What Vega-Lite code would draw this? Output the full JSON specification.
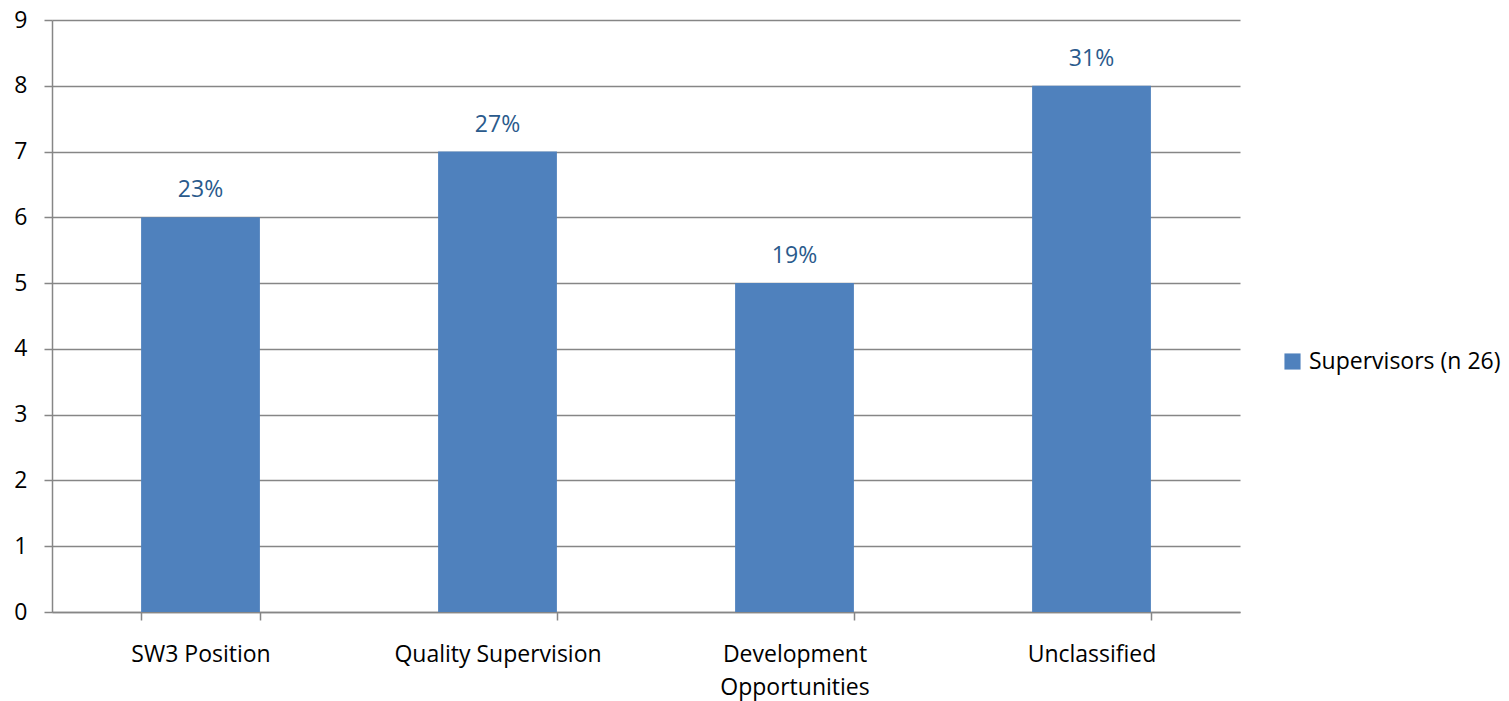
{
  "$schema": "https://vega.github.io/schema/vega-lite/v6.json",
  "width": 1188,
  "height": 592,
  "autosize": {"type": "none"},
  "padding": {"left": 52, "top": 20, "right": 269, "bottom": 89},
  "background": "white",
  "config": {
    "font": "Open Sans",
    "view": {"stroke": null}
  },
  "data": {
    "values": [
      {"category": "SW3 Position", "count": 6, "pct": "23%", "series": "Supervisors (n 26)"},
      {"category": "Quality Supervision", "count": 7, "pct": "27%", "series": "Supervisors (n 26)"},
      {"category": "Development Opportunities", "count": 5, "pct": "19%", "series": "Supervisors (n 26)"},
      {"category": "Unclassified", "count": 8, "pct": "31%", "series": "Supervisors (n 26)"}
    ]
  },
  "encoding": {
    "x": {
      "field": "category",
      "type": "nominal",
      "sort": null,
      "scale": {"paddingInner": 0.6, "paddingOuter": 0.3},
      "axis": {
        "title": null,
        "labelAngle": 0,
        "labelFont": "Open Sans",
        "labelFontSize": 23,
        "labelColor": "#000000",
        "labelPadding": 23,
        "labelLineHeight": 33,
        "labelLimit": 400,
        "labelExpr": "datum.label == 'Development Opportunities' ? ['Development', 'Opportunities'] : datum.label",
        "tickBand": "extent",
        "tickSize": 8,
        "tickColor": "#868686",
        "tickWidth": 1.5,
        "domainColor": "#868686",
        "domainWidth": 1.5,
        "grid": false
      }
    },
    "y": {
      "field": "count",
      "type": "quantitative",
      "scale": {"domain": [0, 9], "nice": false},
      "axis": {
        "title": null,
        "values": [0, 1, 2, 3, 4, 5, 6, 7, 8, 9],
        "labelFont": "Open Sans",
        "labelFontSize": 23,
        "labelColor": "#000000",
        "labelPadding": 17,
        "tickSize": 8,
        "tickColor": "#868686",
        "tickWidth": 1.5,
        "domainColor": "#868686",
        "domainWidth": 1.5,
        "grid": true,
        "gridColor": "#868686",
        "gridWidth": 1.5
      }
    }
  },
  "layer": [
    {
      "mark": {"type": "bar", "color": "#4F81BD"},
      "encoding": {
        "color": {
          "field": "series",
          "type": "nominal",
          "scale": {"range": ["#4F81BD"]},
          "legend": {
            "title": null,
            "orient": "none",
            "legendX": 1229,
            "legendY": 330,
            "symbolType": "square",
            "symbolSize": 260,
            "symbolStrokeWidth": 0,
            "symbolOpacity": 1,
            "labelFont": "Open Sans",
            "labelFontSize": 23,
            "labelColor": "#000000",
            "labelOffset": 5,
            "labelLimit": 400
          }
        }
      }
    },
    {
      "mark": {"type": "text", "dy": -27, "font": "Open Sans", "fontSize": 23, "color": "#2A5A8C"},
      "encoding": {"text": {"field": "pct"}}
    }
  ]
}
